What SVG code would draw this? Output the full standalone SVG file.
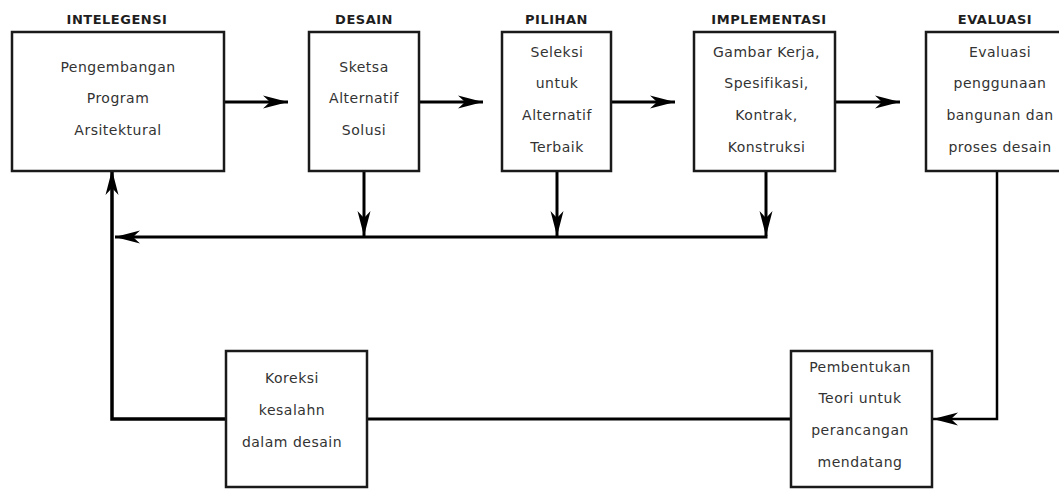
<svg xmlns="http://www.w3.org/2000/svg" width="1059" height="489" viewBox="0 0 1059 489">
  <style>
    .box { fill: #ffffff; stroke: #1a1a1a; stroke-width: 2.5; }
    .title { font-family: "DejaVu Sans", "Liberation Sans", sans-serif; font-size: 13px; font-weight: bold; fill: #1e1e1e; text-anchor: middle; letter-spacing: 0.5px; }
    .body { font-family: "DejaVu Sans", "Liberation Sans", sans-serif; font-size: 14px; fill: #333333; text-anchor: middle; letter-spacing: 0.5px; }
    .wire { fill: none; stroke: #000000; stroke-width: 3; }
  </style>
  <defs>
    <marker id="head" markerUnits="userSpaceOnUse" viewBox="-26 -8 27 16" refX="0" refY="0" markerWidth="27" markerHeight="16" orient="auto">
      <path d="M0,0 L-25,-6.5 L-18,0 L-25,6.5 Z" fill="#000000"/>
    </marker>
  </defs>

  <rect width="1059" height="489" fill="#ffffff"/>

  <!-- connectors -->
  <g id="connectors">
    <line class="wire" x1="224" y1="102" x2="288" y2="102" marker-end="url(#head)"/>
    <line class="wire" x1="419" y1="102" x2="483" y2="102" marker-end="url(#head)"/>
    <line class="wire" x1="611" y1="102" x2="675" y2="102" marker-end="url(#head)"/>
    <line class="wire" x1="835" y1="102" x2="900" y2="102" marker-end="url(#head)"/>

    <line class="wire" x1="364" y1="171" x2="364" y2="236" marker-end="url(#head)"/>
    <line class="wire" x1="557" y1="171" x2="557" y2="236" marker-end="url(#head)"/>
    <line class="wire" x1="766" y1="171" x2="766" y2="236" marker-end="url(#head)"/>
    <line class="wire" x1="767.5" y1="237" x2="115" y2="237" marker-end="url(#head)"/>

    <polyline class="wire" points="226,419 112,419 112,170" marker-end="url(#head)" style="stroke-width:3.5"/>
    <line class="wire" x1="367" y1="419" x2="791" y2="419"/>
    <polyline class="wire" points="997,171 997,419 933,419" marker-end="url(#head)" style="stroke-width:2.5"/>
  </g>

  <g id="intelegensi">
    <text class="title" x="117" y="24">INTELEGENSI</text>
    <rect class="box" x="12" y="32" width="212" height="139"/>
    <text class="body" x="118" y="72">Pengembangan</text>
    <text class="body" x="118" y="103">Program</text>
    <text class="body" x="118" y="135">Arsitektural</text>
  </g>

  <g id="desain">
    <text class="title" x="364" y="24">DESAIN</text>
    <rect class="box" x="309" y="32" width="110" height="139"/>
    <text class="body" x="364" y="72">Sketsa</text>
    <text class="body" x="364" y="103">Alternatif</text>
    <text class="body" x="364" y="135">Solusi</text>
  </g>

  <g id="pilihan">
    <text class="title" x="556.5" y="24">PILIHAN</text>
    <rect class="box" x="502" y="32" width="109" height="139"/>
    <text class="body" x="557" y="57">Seleksi</text>
    <text class="body" x="557" y="88">untuk</text>
    <text class="body" x="557" y="120">Alternatif</text>
    <text class="body" x="557" y="152">Terbaik</text>
  </g>

  <g id="implementasi">
    <text class="title" x="769" y="24">IMPLEMENTASI</text>
    <rect class="box" x="694" y="32" width="141" height="139"/>
    <text class="body" x="766.5" y="57">Gambar Kerja,</text>
    <text class="body" x="766.5" y="88">Spesifikasi,</text>
    <text class="body" x="766.5" y="120">Kontrak,</text>
    <text class="body" x="766.5" y="152">Konstruksi</text>
  </g>

  <g id="evaluasi">
    <text class="title" x="995" y="24">EVALUASI</text>
    <rect class="box" x="926" y="32" width="150" height="139"/>
    <text class="body" x="1000" y="57">Evaluasi</text>
    <text class="body" x="1000" y="88">penggunaan</text>
    <text class="body" x="1000" y="120">bangunan dan</text>
    <text class="body" x="1000" y="152">proses desain</text>
  </g>

  <g id="koreksi">
    <rect class="box" x="226" y="351" width="141" height="136"/>
    <text class="body" x="292" y="383">Koreksi</text>
    <text class="body" x="292" y="415">kesalahn</text>
    <text class="body" x="292" y="447">dalam desain</text>
  </g>

  <g id="pembentukan">
    <rect class="box" x="791" y="351" width="141" height="136"/>
    <text class="body" x="860" y="372">Pembentukan</text>
    <text class="body" x="860" y="403">Teori untuk</text>
    <text class="body" x="860" y="435">perancangan</text>
    <text class="body" x="860" y="467">mendatang</text>
  </g>
</svg>
